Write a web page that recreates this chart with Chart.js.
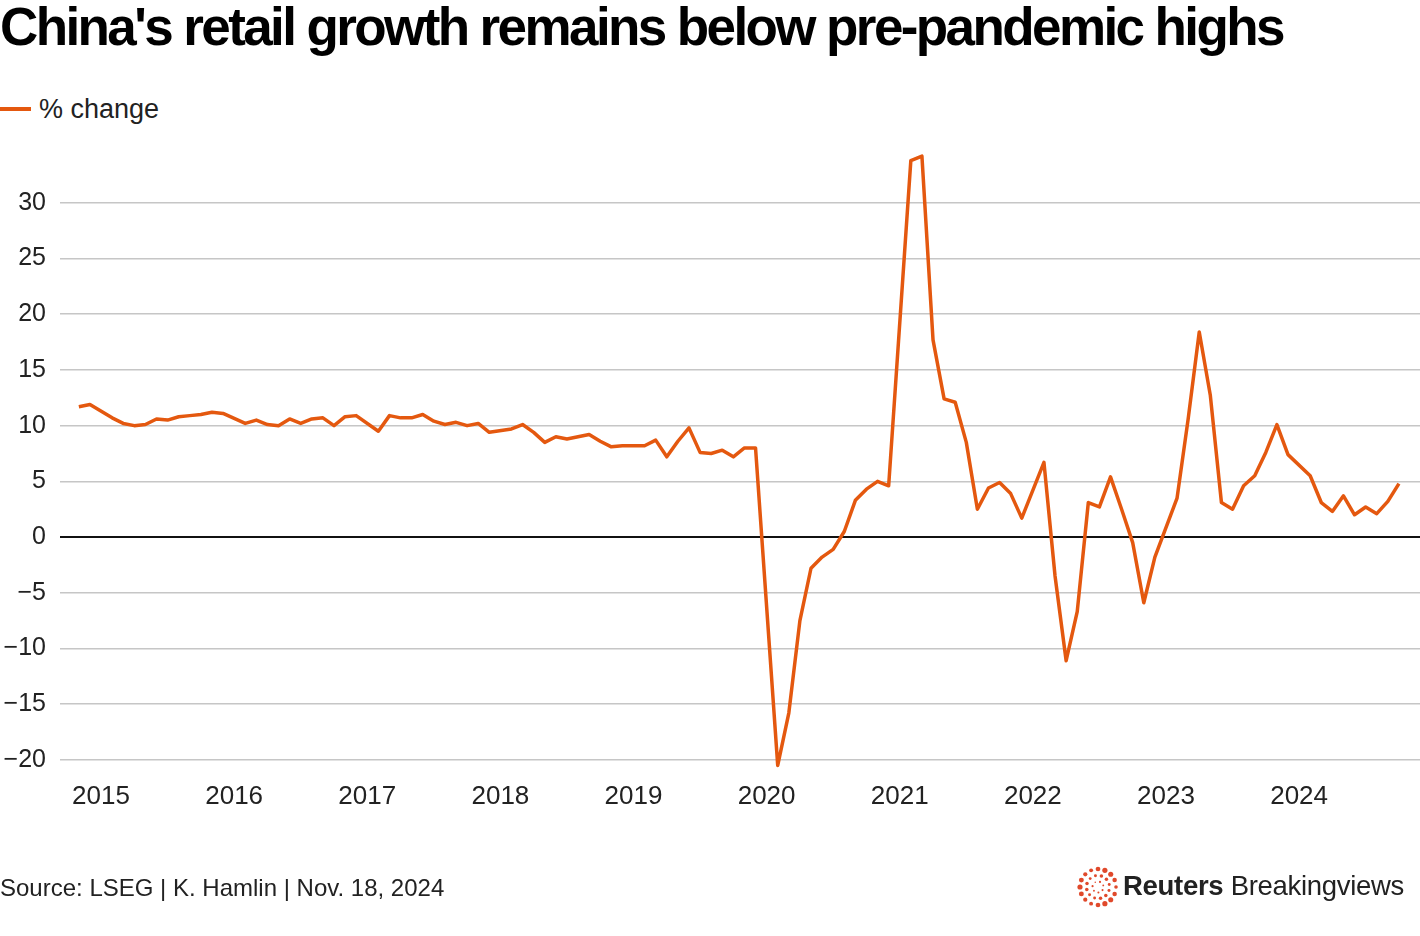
<!DOCTYPE html>
<html>
<head>
<meta charset="utf-8">
<script src="https://cdn.jsdelivr.net/npm/chart.js@4.4.1/dist/chart.umd.min.js"></script>
<style>
  html, body { margin: 0; padding: 0; background: #fff; }
  body { width: 1420px; height: 936px; position: relative; overflow: hidden; font-family: "Liberation Sans", Arial, sans-serif; color: #222; }
  #title { position: absolute; left: 0; top: 0; font-size: 53px; font-weight: bold; line-height: 54px; color: #000; white-space: nowrap; letter-spacing: -2.6px; }
  #legend { position: absolute; left: 0; top: 95px; font-size: 27px; line-height: 28px; white-space: nowrap; }
  #legend .swatch { display: inline-block; width: 31px; height: 3.5px; background: #e4580f; vertical-align: middle; margin-right: 8px; position: relative; top: -2px; }
  #source { position: absolute; left: 0; top: 874px; font-size: 24px; line-height: 28px; white-space: nowrap; }
  #logo { position: absolute; left: 1076px; top: 865px; width: 344px; height: 44px; }
  #logo svg { position: absolute; left: 0; top: 0; }
  #logo .brand { position: absolute; left: 47px; top: 6px; font-size: 27.5px; line-height: 30px; white-space: nowrap; color: #222; letter-spacing: -0.3px; }
  canvas { position: absolute; left: 0; top: 0; }
</style>
</head>
<body>
<div id="title">China's retail growth remains below pre-pandemic highs</div>
<div id="legend"><span class="swatch"></span>% change</div>
<canvas id="chart" width="1420" height="936"></canvas>
<div id="source">Source: LSEG | K. Hamlin | Nov. 18, 2024</div>
<div id="logo"><svg id="dots" width="44" height="44"></svg><div class="brand"><b>Reuters</b> Breakingviews</div></div>
<script>
// monthly retail sales growth, Nov 2014 - Oct 2024 (January folded into Jan-Feb figure, so null)
const startYear = 2014;
const startMonth = 11;
const years = ['2015', '2016', '2017', '2018', '2019', '2020', '2021', '2022', '2023', '2024'];
const yTicks = [-20, -15, -10, -5, 0, 5, 10, 15, 20, 25, 30];

const v2014 = [11.7, 11.9];
const v2015 = [null, 10.7, 10.2, 10.0, 10.1, 10.6, 10.5, 10.8, 10.9, 11.0, 11.2, 11.1];
const v2016 = [null, 10.2, 10.5, 10.1, 10.0, 10.6, 10.2, 10.6, 10.7, 10.0, 10.8, 10.9];
const v2017 = [null, 9.5, 10.9, 10.7, 10.7, 11.0, 10.4, 10.1, 10.3, 10.0, 10.2, 9.4];
const v2018 = [null, 9.7, 10.1, 9.4, 8.5, 9.0, 8.8, 9.0, 9.2, 8.6, 8.1, 8.2];
const v2019 = [null, 8.2, 8.7, 7.2, 8.6, 9.8, 7.6, 7.5, 7.8, 7.2, 8.0, 8.0];
const v2020 = [null, -20.5, -15.8, -7.5, -2.8, -1.8, -1.1, 0.5, 3.3, 4.3, 5.0, 4.6];
const v2021 = [null, 33.8, 34.2, 17.7, 12.4, 12.1, 8.5, 2.5, 4.4, 4.9, 3.9, 1.7];
const v2022 = [null, 6.7, -3.5, -11.1, -6.7, 3.1, 2.7, 5.4, 2.5, -0.5, -5.9, -1.8];
const v2023 = [null, 3.5, 10.6, 18.4, 12.7, 3.1, 2.5, 4.6, 5.5, 7.6, 10.1, 7.4];
const v2024 = [null, 5.5, 3.1, 2.3, 3.7, 2.0, 2.7, 2.1, 3.2, 4.8];

const values = [].concat(v2014, v2015, v2016, v2017, v2018, v2019, v2020, v2021, v2022, v2023, v2024);
const points = values.map((y, i) => ({ x: i, y: y }));
// index of January of each labelled year
const yearIdx = years.map(y => (Number(y) - startYear) * 12 + 1 - startMonth);

const orange = '#e4580f';

new Chart(document.getElementById('chart'), {
    type: 'line',
    data: {
        datasets: [{
            label: '% change',
            data: points,
            borderColor: orange,
            borderWidth: 3.5,
            borderJoinStyle: 'round',
            pointRadius: 0,
            tension: 0,
            spanGaps: true
        }]
    },
    options: {
        responsive: false,
        animation: false,
        devicePixelRatio: 1,
        layout: { padding: { top: 136, left: 0, right: 0, bottom: 0 } },
        plugins: { legend: { display: false }, tooltip: { enabled: false } },
        scales: {
            x: {
                type: 'linear',
                min: -1.7,
                max: 120.9,
                afterBuildTicks: (scale) => { scale.ticks = yearIdx.map(v => ({ value: v })); },
                afterFit: (scale) => { scale.height = 165; },
                grid: { display: false, drawTicks: false },
                border: { display: false },
                ticks: {
                    autoSkip: false,
                    maxRotation: 0,
                    padding: 10,
                    color: '#222',
                    font: { family: 'Liberation Sans', size: 26 },
                    callback: (v) => years[yearIdx.indexOf(v)]
                }
            },
            y: {
                min: -21,
                max: 36,
                afterBuildTicks: (scale) => { scale.ticks = yTicks.map(v => ({ value: v })); },
                afterFit: (scale) => { scale.width = 60; },
                grid: {
                    drawTicks: false,
                    color: (c) => c.tick && c.tick.value === 0 ? '#111' : '#c6c6c6',
                    lineWidth: (c) => c.tick && c.tick.value === 0 ? 2 : 1.5
                },
                border: { display: false },
                ticks: {
                    padding: 14,
                    color: '#222',
                    font: { family: 'Liberation Sans', size: 25 },
                    callback: (v) => v < 0 ? '\u2212' + Math.abs(v) : String(v)
                }
            }
        }
    }
});

// logo dots
const svg = document.getElementById('dots');
const rings = [
    { r: 18, n: 16, s: 2.6 },
    { r: 11.5, n: 12, s: 1.8 },
    { r: 5.5, n: 7, s: 1.1 }
];
rings.forEach((ring, k) => {
    for (let i = 0; i < ring.n; i++) {
        const a = (i / ring.n) * Math.PI * 2 + k * 0.3;
        const c = document.createElementNS('http://www.w3.org/2000/svg', 'circle');
        c.setAttribute('cx', 22 + ring.r * Math.cos(a));
        c.setAttribute('cy', 22 + ring.r * Math.sin(a));
        c.setAttribute('r', ring.s * (0.7 + 0.3 * Math.abs(Math.sin(a * 1.5))));
        c.setAttribute('fill', '#e0492b');
        svg.appendChild(c);
    }
});
</script>
</body>
</html>
